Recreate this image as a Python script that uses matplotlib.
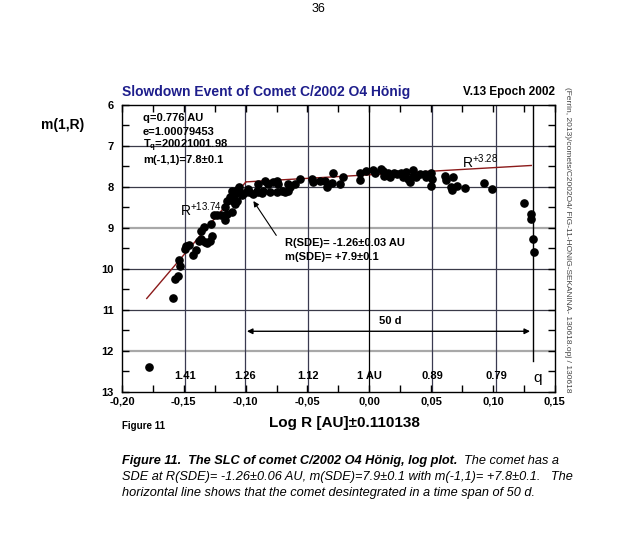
import numpy as np
import matplotlib
matplotlib.use("Agg")
import matplotlib.pyplot as plt

plt.rcParams['font.family'] = ['Liberation Sans', 'DejaVu Sans']

# observed magnitudes (x = Log R, y = m(1,R))
obs_x = [-0.178, -0.159, -0.157, -0.155, -0.153, -0.154, -0.149, -0.148, -0.146, -0.143,
         -0.140, -0.138, -0.136, -0.133, -0.131, -0.136, -0.134, -0.129, -0.127, -0.128,
         -0.126, -0.123, -0.120, -0.117, -0.115, -0.111, -0.117, -0.115, -0.113, -0.110,
         -0.109, -0.111, -0.109, -0.107, -0.107, -0.105, -0.103, -0.101, -0.098, -0.097,
         -0.094, -0.091, -0.087, -0.090, -0.090, -0.086, -0.0845, -0.082, -0.080, -0.078,
         -0.075, -0.074, -0.075, -0.071, -0.068, -0.0656, -0.0656, -0.0643, -0.060, -0.056,
         -0.0467, -0.0454, -0.040, -0.036, -0.0346, -0.0293, -0.030, -0.0238, -0.0212, -0.0077,
         -0.0077, -0.0023, 0.0031, 0.005, 0.0093, 0.0112, 0.012, 0.0152, 0.0166, 0.0201,
         0.022, 0.026, 0.027, 0.030, 0.031, 0.033, 0.035, 0.035, 0.038, 0.041,
         0.045, 0.046, 0.050, 0.051, 0.050, 0.061, 0.062, 0.068, 0.066, 0.067,
         0.071, 0.077, 0.093, 0.099, 0.125, 0.131, 0.131, 0.132, 0.133]
obs_y = [12.39, 10.70, 10.25, 10.17, 9.92, 9.78, 9.51, 9.45, 9.41, 9.67,
         9.54, 9.31, 9.27, 9.35, 9.37, 9.07, 8.99, 9.31, 9.19, 8.90,
         8.68, 8.68, 8.69, 8.82, 8.66, 8.62, 8.50, 8.34, 8.26, 8.34,
         8.42, 8.11, 8.17, 8.34, 8.08, 8.00, 8.19, 8.16, 8.05, 8.13,
         8.17, 8.11, 8.16, 7.93, 8.13, 8.09, 7.85, 7.93, 8.13, 7.89,
         7.85, 7.93, 8.13, 8.09, 8.13, 8.09, 7.93, 8.01, 7.93, 7.81,
         7.81, 7.89, 7.85, 7.85, 8.00, 7.67, 7.91, 7.93, 7.75, 7.67,
         7.83, 7.62, 7.59, 7.67, 7.56, 7.61, 7.73, 7.67, 7.75, 7.67,
         7.69, 7.67, 7.77, 7.65, 7.81, 7.89, 7.59, 7.73, 7.75, 7.69,
         7.69, 7.77, 7.67, 7.81, 7.99, 7.73, 7.83, 7.75, 8.00, 8.08,
         7.97, 8.03, 7.91, 8.05, 8.39, 8.66, 8.78, 9.27, 9.59]

# power-law fits
fit1_x = [-0.180, -0.0998]
fit1_y = [10.72, 7.88]
fit2_x = [-0.0998, 0.131]
fit2_y = [7.88, 7.48]

# heliocentric distance markers (AU)
r_labels = ['1.41', '1.26', '1.12', '1 AU', '0.89', '0.79']
r_values = [1.41, 1.26, 1.12, 1.0, 0.89, 0.79]
q_pos = 0.132

fig = plt.figure(figsize=(6.29, 5.41), dpi=100)
ax = fig.add_axes([0.194, 0.2754, 0.688, 0.531])

ax.set_xlim(-0.20, 0.15)
ax.set_ylim(13, 6)

# grid
for yv in [7, 8, 10, 11]:
    ax.axhline(yv, color='#3a3a48', lw=0.9, zorder=1)
for yv in [9, 12]:
    ax.axhline(yv, color='#a8a8a8', lw=1.6, zorder=1)
for lab, r in zip(r_labels, r_values):
    xv = -np.log10(r)
    ax.axvline(xv, color='black' if r == 1.0 else '#3a3a50', lw=0.9, zorder=1)
    ax.text(xv, 12.62, lab, ha='center', va='center', fontsize=8, fontweight='bold')

ax.plot([q_pos, q_pos], [6, 12.25], color='black', lw=1.0, zorder=2)
ax.text(q_pos + 0.0045, 12.65, 'q', fontsize=11, ha='center', va='center')

ax.plot(fit1_x, fit1_y, color='#8b1a1a', lw=1.0, zorder=3)
ax.plot(fit2_x, fit2_y, color='#8b1a1a', lw=1.0, zorder=3)
ax.plot(obs_x, obs_y, 'o', color='black', ms=5.2, zorder=4)

# info text
info = ['q=0.776 AU', 'e=1.00079453', r'T$_{\mathregular{q}}$=20021001.98', 'm(-1,1)=7.8±0.1']
for i, s in enumerate(info):
    ax.text(-0.183, 6.33 + 0.34 * i, s, fontsize=8, fontweight='bold', va='center')

ax.text(-0.153, 8.55, r'R$^{\mathregular{+13.74}}$', fontsize=10, va='center')
ax.text(0.075, 7.4, r'R$^{\mathregular{+3.28}}$', fontsize=10, va='center')

ax.annotate('', xy=(-0.095, 8.29), xytext=(-0.074, 9.24),
            arrowprops=dict(arrowstyle='-|>', color='black', lw=0.8, mutation_scale=8))
ax.text(-0.068, 9.38, 'R(SDE)= -1.26±0.03 AU', fontsize=8, fontweight='bold', va='center')
ax.text(-0.068, 9.72, 'm(SDE)= +7.9±0.1', fontsize=8, fontweight='bold', va='center')

ax.annotate('', xy=(-0.099, 11.52), xytext=(0.130, 11.52),
            arrowprops=dict(arrowstyle='<|-|>', color='black', lw=1.0, mutation_scale=8,
                            shrinkA=0, shrinkB=0))
ax.text(0.017, 11.28, '50 d', fontsize=8, fontweight='bold', ha='center', va='center')

# ticks
xt = np.arange(-0.20, 0.151, 0.05)
ax.set_xticks(xt)
ax.set_xticklabels([('%.2f' % v).replace('.', ',').replace('-0,00', '0,00') for v in xt],
                   fontsize=8, fontweight='bold')
ax.set_xticks(np.arange(-0.175, 0.15, 0.05), minor=True)
ax.set_yticks(np.arange(6, 14))
ax.set_yticklabels([str(v) for v in range(6, 14)], fontsize=8, fontweight='bold')
ax.set_yticks(np.arange(6.5, 13, 1.0), minor=True)
ax.tick_params(which='both', direction='in', top=True, right=True)
ax.tick_params(which='major', length=5, width=1)
ax.tick_params(which='minor', length=5, width=1)
ax.tick_params(axis='y', pad=6)
for sp in ax.spines.values():
    sp.set_linewidth(1.0)

# figure texts
fig.text(0.194, 0.830, 'Slowdown Event of Comet C/2002 O4 Hönig', fontsize=10,
         color='#1e1e8c', fontweight='bold', va='center')
fig.text(0.882, 0.830, 'V.13 Epoch 2002', fontsize=8.5, fontweight='bold',
         ha='right', va='center')
fig.text(0.065, 0.769, 'm(1,R)', fontsize=10, fontweight='bold', va='center')
fig.text(0.548, 0.218, 'Log R [AU]±0.110138', fontsize=11, fontweight='bold',
         ha='center', va='center')
fig.text(0.194, 0.213, 'Figure 11', fontsize=7, fontweight='bold', va='center')
fig.text(0.902, 0.557, '(Ferrin, 2013)/comets/C2002O4/ FIG-11-HONIG-SEKANINA- 130618.opj / 130618',
         fontsize=6, color='#444444', rotation=270, ha='center', va='center')
fig.text(0.506, 0.984, '36', fontsize=9, ha='center', va='center')

# caption
cap_fs = 9.2
t1 = fig.text(0.194, 1 - 461 / 541, 'Figure 11.  The SLC of comet C/2002 O4 Hönig, log plot.',
              fontsize=cap_fs, fontstyle='italic', fontweight='bold', va='center')
ax.annotate('  The comet has a', xy=(1, 0.5), xycoords=t1, fontsize=cap_fs,
            fontstyle='italic', va='center', ha='left', annotation_clip=False)
fig.text(0.194, 1 - 477 / 541,
         'SDE at R(SDE)= -1.26±0.06 AU, m(SDE)=7.9±0.1 with m(-1,1)= +7.8±0.1.   The',
         fontsize=cap_fs, fontstyle='italic', va='center')
fig.text(0.194, 1 - 493 / 541,
         'horizontal line shows that the comet desintegrated in a time span of 50 d.',
         fontsize=cap_fs, fontstyle='italic', va='center')

fig.savefig('out.png', dpi=100)
